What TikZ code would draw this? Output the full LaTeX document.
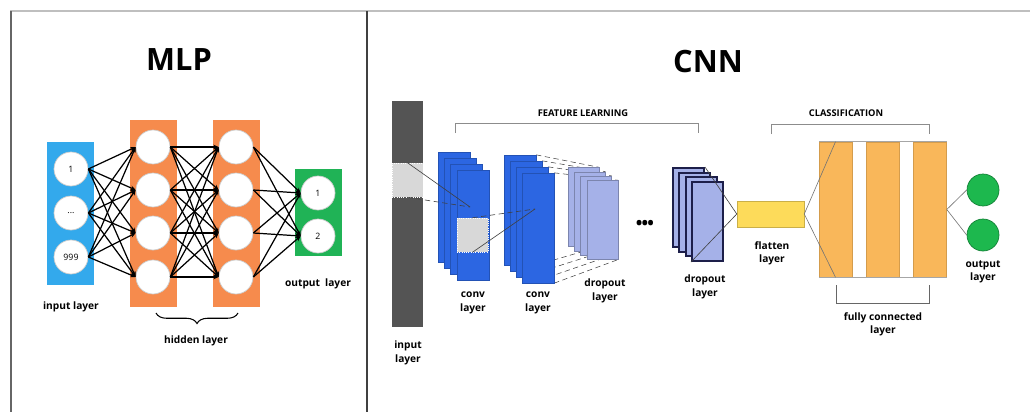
\documentclass[tikz,border=0pt]{standalone}
\usepackage{fontspec}
\setmainfont{Open Sans}
\usetikzlibrary{arrows.meta}
\usetikzlibrary{backgrounds}
\usetikzlibrary{decorations.pathreplacing}

\definecolor{mlpblue}{RGB}{51,169,236}
\definecolor{mlporange}{RGB}{246,139,77}
\definecolor{mlpgreen}{RGB}{32,179,86}
\definecolor{bargray}{RGB}{84,84,84}
\definecolor{patchgray}{RGB}{216,216,216}
\definecolor{convblue}{RGB}{44,102,226}
\definecolor{dropblue}{RGB}{165,177,232}
\definecolor{navy}{RGB}{29,31,74}
\definecolor{flatyellow}{RGB}{253,219,90}
\definecolor{fcorange}{RGB}{249,183,90}
\definecolor{outgreen}{RGB}{29,184,78}

\tikzset{
  lbl/.style={font=\bfseries\fontsize{5.8}{7.6}\selectfont, align=center, inner sep=0pt},
  title/.style={font=\bfseries\fontsize{17.5}{20}\selectfont, inner sep=0pt},
  caps/.style={font=\bfseries\fontsize{5.3}{6}\selectfont, inner sep=0pt},
  layerbox/.style={rectangle, draw=none, minimum width=0.94cm, inner sep=0pt},
  neuron/.style={circle, fill=white, draw=black!20, line width=0.4pt, minimum size=0.68cm, inner sep=0pt, font=\fontsize{5}{6}\selectfont},
  link/.style={black, line width=0.7pt, -{Stealth[length=3pt,width=2.6pt]}},
  fmap/.style={rectangle, draw=convblue!80!black, line width=0.2pt, fill=convblue, minimum width=0.64cm, minimum height=2.2cm, inner sep=0pt},
  dmap/.style={rectangle, draw=dropblue!75!black, line width=0.2pt, fill=dropblue, minimum width=0.62cm, minimum height=1.58cm, inner sep=0pt},
  patch/.style={rectangle, fill=patchgray, draw=white, densely dotted, line width=0.3pt, minimum width=0.62cm, minimum height=0.68cm, inner sep=0pt},
  thinline/.style={black!75, line width=0.35pt},
  bracket/.style={black!45, line width=0.5pt},
  fcbox/.style={rectangle, fill=fcorange, draw=fcorange!85!black, line width=0.3pt, minimum width=0.66cm, minimum height=2.7cm, inner sep=0pt},
}

\begin{document}
\begin{tikzpicture}[x=0.02cm, y=-0.02cm]

\useasboundingbox (0,0) rectangle (1030,412);

% frame
\draw [black!25, line width=1pt] (10,11) -- (1030,11);
\draw [black!60, line width=0.7pt] (11,11) -- (11,412);
\draw [black!75, line width=1.2pt] (367,11) -- (367,412);

%% MLP

\node [title] (mlptitle) at (179,60) {MLP};

% layer boxes
\node [layerbox, fill=mlpblue, minimum height=2.86cm] (inbox) at (70.5,213.5) {};
\node [layerbox, fill=mlporange, minimum height=3.74cm] (hida) at (153.5,213.5) {};
\node [layerbox, fill=mlporange, minimum height=3.74cm] (hidb) at (236.5,213.5) {};
\node [layerbox, fill=mlpgreen, minimum height=1.74cm] (outbox) at (318.5,212.5) {};

% neurons
\node [neuron] (i1) at (71,169) {1};
\node [neuron] (i2) at (71,213) {...};
\node [neuron] (i3) at (71,257) {999};
\foreach \y [count=\k] in {147,190,233,277} {
  \node [neuron] (h\k) at (153,\y) {};
  \node [neuron] (g\k) at (236,\y) {};
}
\node [neuron] (o1) at (318,193) {1};
\node [neuron] (o2) at (318,236) {2};

% connections
\foreach \a in {1,2,3}
  \foreach \b in {1,...,4}
    \draw [link] (i\a.east) -- (h\b.west);
\foreach \a in {1,...,4}
  \foreach \b in {1,...,4}
    \draw [link] (h\a.east) -- (g\b.west);
\foreach \a in {1,...,4}
  \foreach \b in {1,2}
    \draw [link] (g\a.east) -- (o\b.west);

% labels
\node [lbl] (inlbl) at (71,307) {input layer};
\node [lbl] (outlbl) at (318,284) {output\enspace layer};
\coordinate (bra) at (156,313);
\coordinate (brb) at (238,313);
\draw [decorate, decoration={brace, mirror, amplitude=6pt}, line width=0.6pt] (bra) -- (brb);
\node [lbl] (hidlbl) at (196,341) {hidden layer};

%% CNN

\node [title] (cnntitle) at (708,62) {CNN};

% input layer
\node [rectangle, fill=bargray, minimum width=0.62cm, minimum height=4.52cm, inner sep=0pt] (inbar) at (407.5,214) {};
\node [patch] (inpatch) at (407.5,180) {};
\node [lbl] (inbarlbl) at (408,353) {input\\layer};

% feature learning bracket
\coordinate (fla) at (455,133);
\coordinate (flb) at (698,133);
\draw [bracket] (fla) -- ++(0,-10) -| (flb);
\node [caps] (fltext) at (583,113) {FEATURE LEARNING};

% conv layers
\foreach \k in {0,...,3} {
  \node [fmap] (ca\k) at (454+6.3*\k,207+6*\k) {};
}
\node [patch] (capatch) at (472.5,235) {};
\foreach \k in {0,...,3} {
  \node [fmap] (cb\k) at (520+6*\k,210+6*\k) {};
}
\coordinate (capt) at (470,207);
\coordinate (cbpt) at (535,209);
\draw [thinline] (inpatch.north) -- (capt);
\draw [thinline, densely dashed] (inpatch.south) -- (capt);
\draw [thinline, densely dashed] (capatch.north) -- (cbpt);
\draw [thinline] (capatch.south) -- (cbpt);
\node [lbl] (calbl) at (473,303) {conv\\layer};
\node [lbl] (cblbl) at (538,303) {conv\\layer};

% dropout layer
\foreach \k in {0,...,3} {
  \node [dmap] (da\k) at (583.5+6.3*\k,207+4.3*\k) {};
}
\begin{scope}[on background layer]
\foreach \k in {0,...,3} {
  \draw [thinline, densely dashed, line width=0.3pt] (cb\k.north east) -- (da\k.north east);
  \draw [thinline, densely dashed, line width=0.3pt] (cb\k.south east) -- (da\k.south east);
}
\end{scope}
\node [lbl] (dalbl) at (605,291) {dropout\\layer};

\node [font=\bfseries\fontsize{10}{10}\selectfont, inner sep=0pt] (dots) at (645,225) {\textbullet\kern-0.5pt\textbullet\kern-0.5pt\textbullet};

% last dropout layer
\foreach \k in {0,...,3} {
  \node [dmap, draw=navy, line width=1.1pt] (db\k) at (688.5+6.3*\k,207.5+4.7*\k) {};
}
\node [lbl] (dblbl) at (705,287) {dropout\\layer};

% flatten layer
\node [rectangle, fill=flatyellow, draw=flatyellow!80!black, line width=0.3pt, minimum width=1.34cm, minimum height=0.52cm, inner sep=0pt] (flat) at (770.5,214) {};
\draw [thinline] (db0.north east) -- (flat.west);
\draw [thinline] (db3.south west) -- (flat.west);
\node [lbl] (flatlbl) at (772,253) {flatten\\layer};

% fully connected
\node [fcbox] (fc1) at (835.5,209.5) {};
\node [fcbox] (fc2) at (883,209.5) {};
\node [fcbox] (fc3) at (930,209.5) {};
\draw [black!35, line width=0.4pt] (fc1.north west) -- (fc3.north east);
\draw [black!35, line width=0.4pt] (fc1.south west) -- (fc3.south east);
\draw [thinline, black!55] (flat.east) -- (fc1.north);
\draw [thinline, black!55] (flat.east) -- (fc1.south);

\coordinate (cla) at (771,134);
\coordinate (clb) at (929,134);
\draw [bracket] (cla) -- ++(0,-10) -| (clb);
\node [caps] (cltext) at (846,113) {CLASSIFICATION};

\coordinate (fca) at (836,285);
\coordinate (fcb) at (929,285);
\draw [bracket, black!60] (fca) -- ++(0,18) -| (fcb);
\node [lbl] (fclbl) at (883,324) {fully connected\\layer};

% output
\node [circle, fill=outgreen, draw=outgreen!70!black, line width=0.4pt, minimum size=0.64cm, inner sep=0pt] (y1) at (983,190) {};
\node [circle, fill=outgreen, draw=outgreen!70!black, line width=0.4pt, minimum size=0.64cm, inner sep=0pt] (y2) at (983,235) {};
\coordinate (fcout) at (fc3.east);
\draw [thinline, black!55] (fcout) -- (y1.west);
\draw [thinline, black!55] (fcout) -- (y2.west);
\node [lbl] (ylbl) at (983,272) {output\\layer};

\end{tikzpicture}
\end{document}
